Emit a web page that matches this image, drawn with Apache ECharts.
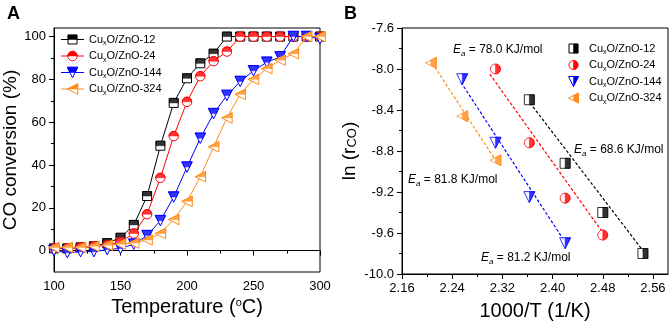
<!DOCTYPE html>
<html>
<head>
<meta charset="utf-8">
<script src="https://cdn.jsdelivr.net/npm/echarts@6/dist/echarts.min.js"></script>
<style>
  html, body { margin: 0; padding: 0; background: #fff; }
  #chart { width: 671px; height: 326px; }
</style>
</head>
<body>
<div id="chart"></div>
<script>
// ---- panel A data: CO conversion vs temperature ----
const tempA = [100, 110, 120, 130, 140, 150, 160, 170, 180, 190, 200, 210, 220, 230, 240, 250, 260, 270, 280, 290, 300];
const conv12 = [1, 1, 1.5, 2, 3.5, 6, 12, 25.5, 49, 69, 80.5, 87.5, 92, 100, 100, 100, 100, 100, 100, 100, 100];
const conv24 = [1, 1, 1.5, 2, 2.5, 4, 8, 17, 34, 53.5, 69.5, 81.5, 88.5, 93, 100, 100, 100, 100, 100, 100, 100];
const conv144 = [0, -1, -0.5, -0.5, 0.5, 1, 3, 7, 14, 25, 39, 52.5, 64, 72.5, 79, 84, 88, 90.5, 100, 100, 99];
const conv324 = [1.5, 1.5, 1.5, 2, 2.5, 3, 3.5, 5, 8, 14.5, 23, 34.5, 48.5, 62, 73, 80, 85, 89, 92, 100, 100];

// ---- panel B data: Arrhenius plot ----
const invT12 = [2.363, 2.420, 2.480, 2.544];
const lnr12 = [-8.30, -8.92, -9.40, -9.80];
const invT24 = [2.309, 2.363, 2.420, 2.480];
const lnr24 = [-8.00, -8.72, -9.26, -9.62];
const invT144 = [2.256, 2.309, 2.363, 2.420];
const lnr144 = [-8.10, -8.72, -9.25, -9.70];
const invT324 = [2.206, 2.256, 2.309];
const lnr324 = [-7.94, -8.46, -8.89];
// fitted lines (end points)
const fit12 = [[2.364, -8.33], [2.550, -9.82]];
const fit24 = [[2.300, -8.05], [2.484, -9.63]];
const fit144 = [[2.254, -8.13], [2.420, -9.69]];
const fit324 = [[2.208, -7.94], [2.310, -8.90]];

// axis ticks
const tickAx = [100, 150, 200, 250, 300];
const minorAx = [125, 175, 225, 275];
const tickAy = [0, 20, 40, 60, 80, 100];
const minorAy = [10, 30, 50, 70, 90];
const tickBx = [2.16, 2.24, 2.32, 2.40, 2.48, 2.56];
const minorBx = [2.20, 2.28, 2.36, 2.44, 2.52];
const tickBy = [-10.0, -9.6, -9.2, -8.8, -8.4, -8.0, -7.6];
const minorBy = [-9.8, -9.4, -9.0, -8.6, -8.2, -7.8];

const names = ['Cu{s|x}O/ZnO-12', 'Cu{s|x}O/ZnO-24', 'Cu{s|x}O/ZnO-144', 'Cu{s|x}O/ZnO-324'];
const colors = ['#000000', '#ff0000', '#0000ff', '#ff8c1a'];
const FONT = 'Liberation Sans, Arial, sans-serif';

// full symbols and half symbols (top half for A, right half for B)
const fullSym = {
  square: 'path://M0,0 L2,0 L2,2 L0,2 Z',
  circle: 'path://M0,1 A1,1 0 0 1 2,1 A1,1 0 0 1 0,1 Z',
  down: 'path://M0,0 L2,0 L1,2 Z',
  left: 'path://M0,1 L2,0 L2,2 Z'
};
const topHalf = {
  square: 'path://M0,0 L2,0 L2,1 L0,1 Z',
  circle: 'path://M0,1 A1,1 0 0 1 2,1 Z',
  down: 'path://M0,0 L2,0 L1.5,1 L0.5,1 Z',
  left: 'path://M0,1 L2,0 L2,1 Z'
};
const rightHalf = {
  square: 'path://M0,0 L1,0 L1,2 L0,2 Z',
  circle: 'path://M1,0 A1,1 0 0 1 1,2 Z',
  down: 'path://M0,0 L1,0 L0,2 Z',
  left: 'path://M0,0.5 L1,0 L1,2 L0,1.5 Z'
};
const kinds = ['square', 'circle', 'down', 'left'];
const sizesA = [9, 9.5, 10.5, 10.5];
const sizesB = [10, 10, 11, 11];

const pairs = (xs, ys) => xs.map((x, i) => [x, ys[i]]);
const seriesA = [conv12, conv24, conv144, conv324];
const seriesBx = [invT12, invT24, invT144, invT324];
const seriesBy = [lnr12, lnr24, lnr144, lnr324];
const fitsB = [fit12, fit24, fit144, fit324];

const series = [];
seriesA.forEach((ys, i) => {
  const s = sizesA[i];
  series.push({
    type: 'line', xAxisIndex: 0, yAxisIndex: 0, z: 2 + i * 2,
    data: pairs(tempA, ys),
    symbol: fullSym[kinds[i]], symbolSize: s,
    lineStyle: { color: colors[i], width: 1 },
    itemStyle: { color: '#fff', borderColor: colors[i], borderWidth: 1 }
  });
  series.push({
    type: 'scatter', xAxisIndex: 0, yAxisIndex: 0, z: 3 + i * 2,
    data: pairs(tempA, ys),
    symbol: topHalf[kinds[i]], symbolSize: [s, s / 2], symbolOffset: [0, -s / 4],
    itemStyle: { color: colors[i], borderColor: colors[i], borderWidth: 0.5 }
  });
});
fitsB.forEach((f, i) => {
  series.push({
    type: 'line', xAxisIndex: 2, yAxisIndex: 2, data: f, symbol: 'none',
    lineStyle: { color: colors[i], width: 1.2, type: [3, 2] }
  });
});
seriesBx.forEach((xs, i) => {
  const s = sizesB[i];
  series.push({
    type: 'scatter', xAxisIndex: 2, yAxisIndex: 2, z: 3,
    data: pairs(xs, seriesBy[i]),
    symbol: fullSym[kinds[i]], symbolSize: s,
    itemStyle: { color: '#fff', borderColor: colors[i], borderWidth: 1 }
  });
  series.push({
    type: 'scatter', xAxisIndex: 2, yAxisIndex: 2, z: 4,
    data: pairs(xs, seriesBy[i]),
    symbol: rightHalf[kinds[i]], symbolSize: [s / 2, s], symbolOffset: [s / 4, 0],
    itemStyle: { color: colors[i], borderColor: colors[i], borderWidth: 0.5 }
  });
});

// hand-made legends (half filled markers)
function marker(kind, cx, cy, s, color, split) {
  const h = s / 2;
  let full, half;
  if (kind === 'square') {
    full = { type: 'rect', shape: { x: cx - h, y: cy - h, width: s, height: s } };
    half = split === 'top'
      ? { type: 'rect', shape: { x: cx - h, y: cy - h, width: s, height: h } }
      : { type: 'rect', shape: { x: cx, y: cy - h, width: h, height: s } };
  } else if (kind === 'circle') {
    full = { type: 'circle', shape: { cx: cx, cy: cy, r: h } };
    half = split === 'top'
      ? { type: 'sector', shape: { cx: cx, cy: cy, r: h, startAngle: Math.PI, endAngle: 2 * Math.PI } }
      : { type: 'sector', shape: { cx: cx, cy: cy, r: h, startAngle: -Math.PI / 2, endAngle: Math.PI / 2 } };
  } else if (kind === 'down') {
    full = { type: 'polygon', shape: { points: [[cx - h, cy - h], [cx + h, cy - h], [cx, cy + h]] } };
    half = split === 'top'
      ? { type: 'polygon', shape: { points: [[cx - h, cy - h], [cx + h, cy - h], [cx + h / 2, cy], [cx - h / 2, cy]] } }
      : { type: 'polygon', shape: { points: [[cx, cy - h], [cx + h, cy - h], [cx, cy + h]] } };
  } else {
    full = { type: 'polygon', shape: { points: [[cx - h, cy], [cx + h, cy - h], [cx + h, cy + h]] } };
    half = split === 'top'
      ? { type: 'polygon', shape: { points: [[cx - h, cy], [cx + h, cy - h], [cx + h, cy]] } }
      : { type: 'polygon', shape: { points: [[cx, cy - h / 2], [cx + h, cy - h], [cx + h, cy + h], [cx, cy + h / 2]] } };
  }
  full.style = { fill: '#fff', stroke: color, lineWidth: 1 };
  half.style = { fill: color, stroke: color, lineWidth: 0.5 };
  full.z = 100; half.z = 101;
  return [full, half];
}
const subRich = {
  s: { fontSize: 7, fontFamily: FONT, verticalAlign: 'bottom', lineHeight: 15 },
  n: { fontSize: 11, fontFamily: FONT, lineHeight: 15 }
};
const legendText = (n) => n.replace(/^Cu/, '{n|Cu}').replace(/O\/ZnO(.*)$/, '{n|O/ZnO$1}');
const graphics = [];
const rowsA = [39.5, 56, 72.5, 89];
rowsA.forEach((y, i) => {
  graphics.push({ type: 'line', shape: { x1: 61, y1: y, x2: 84, y2: y }, style: { stroke: colors[i], lineWidth: 1 }, z: 99 });
  graphics.push(...marker(kinds[i], 72.5, y, sizesA[i], colors[i], 'top'));
  graphics.push({ type: 'text', x: 89, y: y, z: 100,
    style: { text: legendText(names[i]), rich: subRich, verticalAlign: 'middle', fill: '#000' } });
});
const rowsB = [48.5, 65, 81.5, 98];
rowsB.forEach((y, i) => {
  graphics.push(...marker(kinds[i], 573.5, y, sizesB[i] - 1, colors[i], 'right'));
  graphics.push({ type: 'text', x: 589, y: y, z: 100,
    style: { text: legendText(names[i]), rich: subRich, verticalAlign: 'middle', fill: '#000' } });
});
// activation energy labels
const eaRich = (c) => ({
  e: { fontSize: 12, fontFamily: FONT, fontStyle: 'italic', color: c, lineHeight: 16 },
  a: { fontSize: 8, fontFamily: FONT, fontStyle: 'italic', color: c, verticalAlign: 'bottom', lineHeight: 16 },
  t: { fontSize: 12, fontFamily: FONT, color: c, lineHeight: 16 }
});
const eaLabels = [
  { txt: '68.6', x: 574, y: 150, c: colors[0] },
  { txt: '78.0', x: 453, y: 50, c: colors[1] },
  { txt: '81.2', x: 481, y: 258, c: colors[2] },
  { txt: '81.8', x: 408, y: 180, c: colors[3] }
];
eaLabels.forEach(l => {
  graphics.push({ type: 'text', x: l.x, y: l.y, z: 100,
    style: { text: '{e|E}{a|a}{t| = ' + l.txt + ' KJ/mol}', rich: eaRich(l.c), verticalAlign: 'middle' } });
});
graphics.push({ type: 'text', x: 7, y: 5, style: { text: 'A', font: 'bold 18px ' + FONT, fill: '#000' } });
graphics.push({ type: 'text', x: 344, y: 5, style: { text: 'B', font: 'bold 18px ' + FONT, fill: '#000' } });

const labelStyle = { color: '#000', fontSize: 13, fontFamily: FONT, margin: 8 };
const lineBlack = { show: true, lineStyle: { color: '#000', width: 1 } };
function minorAxis(extra) {
  return Object.assign({
    type: 'value', axisLine: { show: false }, axisLabel: { show: false },
    splitLine: { show: false }, silent: true
  }, extra);
}

const chart = echarts.init(document.getElementById('chart'));
chart.setOption({
  animation: false,
  backgroundColor: '#fff',
  grid: [
    { left: 54, top: 28, width: 266, height: 244, show: true, borderColor: '#000', borderWidth: 1 },
    { left: 402, top: 28, width: 266, height: 246, show: true, borderColor: '#000', borderWidth: 1 }
  ],
  xAxis: [
    { type: 'value', gridIndex: 0, position: 'bottom', min: 100, max: 300,
      axisLine: lineBlack, splitLine: { show: false },
      axisTick: { customValues: tickAx, length: 5, lineStyle: { color: '#000' } },
      axisLabel: Object.assign({ customValues: tickAx }, labelStyle),
      name: 'Temperature ({sup|o}C)', nameLocation: 'middle', nameGap: 25,
      nameTextStyle: { color: '#000', fontSize: 20, fontFamily: FONT,
        rich: { sup: { fontSize: 11, fontFamily: FONT, verticalAlign: 'top', color: '#000' } } } },
    minorAxis({ gridIndex: 0, position: 'bottom', min: 100, max: 300,
      axisTick: { customValues: minorAx, length: 3, lineStyle: { color: '#000' } } }),
    { type: 'value', gridIndex: 1, position: 'bottom', min: 2.16, max: 2.584,
      axisLine: lineBlack, splitLine: { show: false },
      axisTick: { customValues: tickBx, length: 5, lineStyle: { color: '#000' } },
      axisLabel: Object.assign({ customValues: tickBx, formatter: v => v.toFixed(2) }, labelStyle),
      name: '1000/T (1/K)', nameLocation: 'middle', nameGap: 27,
      nameTextStyle: { color: '#000', fontSize: 20, fontFamily: FONT } },
    minorAxis({ gridIndex: 1, position: 'bottom', min: 2.16, max: 2.584,
      axisTick: { customValues: minorBx, length: 3, lineStyle: { color: '#000' } } })
  ],
  yAxis: [
    { type: 'value', gridIndex: 0, position: 'left', min: -10, max: 104,
      axisLine: lineBlack, splitLine: { show: false },
      axisTick: { customValues: tickAy, length: 5, lineStyle: { color: '#000' } },
      axisLabel: Object.assign({ customValues: tickAy }, labelStyle),
      name: 'CO conversion (%)', nameLocation: 'middle', nameGap: 33,
      nameTextStyle: { color: '#000', fontSize: 19, fontFamily: FONT } },
    minorAxis({ gridIndex: 0, position: 'left', min: -10, max: 104,
      axisTick: { customValues: minorAy, length: 3, lineStyle: { color: '#000' } } }),
    { type: 'value', gridIndex: 1, position: 'left', min: -10, max: -7.6,
      axisLine: lineBlack, splitLine: { show: false },
      axisTick: { customValues: tickBy, length: 5, lineStyle: { color: '#000' } },
      axisLabel: Object.assign({ customValues: tickBy, formatter: v => v.toFixed(1) }, labelStyle),
      name: 'ln (r{sub|CO})', nameLocation: 'middle', nameGap: 43,
      nameTextStyle: { color: '#000', fontSize: 19, fontFamily: FONT,
        rich: { sub: { fontSize: 13, fontFamily: FONT, verticalAlign: 'bottom', color: '#000' } } } },
    minorAxis({ gridIndex: 1, position: 'left', min: -10, max: -7.6,
      axisTick: { customValues: minorBy, length: 3, lineStyle: { color: '#000' } } })
  ],
  series: series,
  graphic: graphics
});
</script>
</body>
</html>
